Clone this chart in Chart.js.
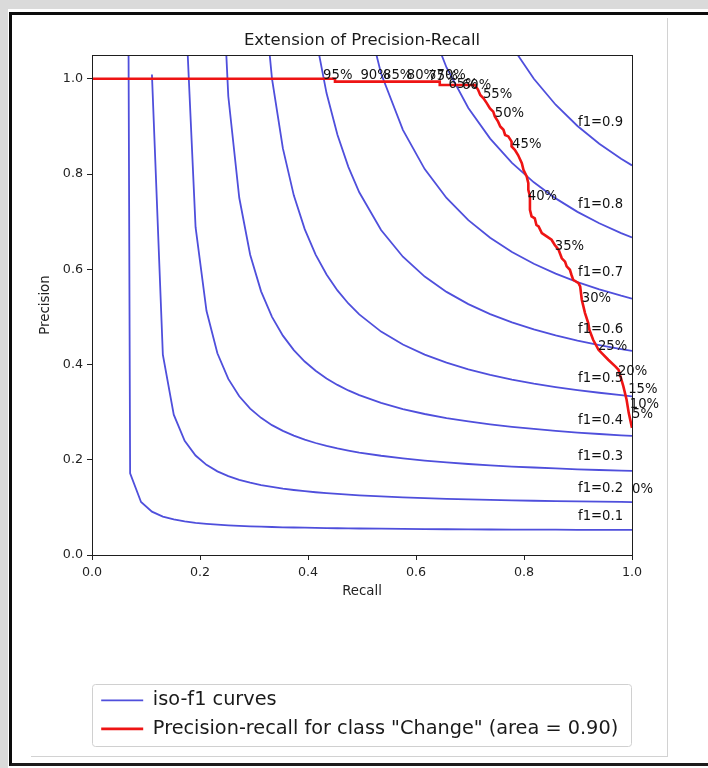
<!DOCTYPE html>
<html>
<head>
<meta charset="utf-8">
<script src="https://cdn.jsdelivr.net/npm/chart.js@4.4.1/dist/chart.umd.min.js"></script>
<style>
  html, body { margin: 0; padding: 0; }
  body { width: 708px; height: 768px; background: #dadada; position: relative; overflow: hidden; }
  #paper { position: absolute; left: 8px; top: 9px; width: 700px; height: 759px; background: #fff; }
  #frame { position: absolute; left: 9px; top: 12px; width: 710px; height: 748px; border-left: 3px solid #0c0c0c; border-top: 3px solid #0c0c0c; border-bottom: 3px solid #1c1c1c; }
  #figure { position: absolute; left: 31px; top: 18px; width: 636px; height: 738px; border-right: 1px solid #d2d2d2; border-bottom: 1px solid #d2d2d2; }
  #chart-box { position: absolute; left: 12px; top: 15px; width: 656px; height: 742px; }
</style>
</head>
<body>
<div id="paper"></div>
<div id="frame"></div>
<div id="figure"></div>
<div id="chart-box"><canvas id="prChart"></canvas></div>
<script>
// recall grid used by the iso-f1 curves (each curve uses the tail of it)
const recallGrid = [0.0504, 0.0706, 0.0908, 0.1110, 0.1312, 0.1514, 0.1716, 0.1918, 0.2120, 0.2322,
  0.2524, 0.2727, 0.2929, 0.3131, 0.3333, 0.3535, 0.3737, 0.3939, 0.4141, 0.4343, 0.4545, 0.4747,
  0.4949, 0.5353, 0.5757, 0.6161, 0.6565, 0.6969, 0.7373, 0.7777, 0.8182, 0.8586, 0.8990, 0.9394,
  0.9798, 1.0];

// precision of each iso-f1 curve, aligned to the end of recallGrid
const iso01 = [6.3, 0.1714, 0.1113, 0.0910, 0.0808, 0.0747, 0.0706, 0.0676, 0.0654, 0.0637, 0.0624,
  0.0612, 0.0603, 0.0595, 0.0588, 0.0582, 0.0577, 0.0573, 0.0569, 0.0565, 0.0562, 0.0559, 0.0556,
  0.0552, 0.0548, 0.0544, 0.0541, 0.0539, 0.0536, 0.0534, 0.0533, 0.0531, 0.0529, 0.0528, 0.0527, 0.0526];
const iso02 = [1.009, 0.4205, 0.2946, 0.2397, 0.2089, 0.1893, 0.1756, 0.1656, 0.1579, 0.1518, 0.1469,
  0.1429, 0.1394, 0.1365, 0.1340, 0.1318, 0.1299, 0.1282, 0.1267, 0.1253, 0.1230, 0.1210, 0.1194,
  0.1180, 0.1168, 0.1157, 0.1148, 0.1139, 0.1132, 0.1125, 0.1119, 0.1114, 0.1111];
const iso03 = [1.1917, 0.6883, 0.5129, 0.4237, 0.3697, 0.3334, 0.3075, 0.2880, 0.2727, 0.2606, 0.2506,
  0.2422, 0.2352, 0.2291, 0.2239, 0.2193, 0.2152, 0.2084, 0.2029, 0.1983, 0.1944, 0.1911, 0.1883,
  0.1858, 0.1837, 0.1818, 0.1800, 0.1785, 0.1771, 0.1765];
const iso04 = [1.442, 0.9634, 0.7502, 0.6306, 0.5537, 0.5001, 0.4606, 0.4303, 0.4063, 0.3868, 0.3707,
  0.3572, 0.3456, 0.3356, 0.3193, 0.3065, 0.2961, 0.2876, 0.2805, 0.2744, 0.2692, 0.2647, 0.2607,
  0.2572, 0.2541, 0.2513, 0.25];
const iso05 = [1.2405, 1.0003, 0.8539, 0.7553, 0.6843, 0.6309, 0.5891, 0.5556, 0.5282, 0.5052, 0.4691,
  0.4419, 0.4207, 0.4038, 0.3899, 0.3783, 0.3684, 0.3600, 0.3527, 0.3463, 0.3407, 0.3356, 0.3333];
const iso06 = [1.0888, 0.9701, 0.8825, 0.8152, 0.7618, 0.6825, 0.6264, 0.5847, 0.5525, 0.5268, 0.5058,
  0.4884, 0.4737, 0.4611, 0.4502, 0.4408, 0.4324, 0.4286];
const iso07 = [1.1954, 1.0111, 0.8928, 0.8104, 0.7497, 0.7031, 0.6663, 0.6364, 0.6116, 0.5909, 0.5731,
  0.5578, 0.5445, 0.5385];
const iso08 = [1.1404, 1.0238, 0.9389, 0.8744, 0.8236, 0.7826, 0.7489, 0.7206, 0.6966, 0.6760, 0.6667];
const iso09 = [1.068, 1.0, 0.9456, 0.9010, 0.8638, 0.8322, 0.8182];

// f1 label positions
const f1Scores = [0.1, 0.2, 0.3, 0.4, 0.5, 0.6, 0.7, 0.8, 0.9];
const f1LabelRecall = 0.9;
const f1LabelPrecision = [0.0729, 0.1322, 0.1993, 0.2756, 0.3634, 0.4653, 0.5852, 0.728, 0.9016];

// precision-recall curve for class "Change"
const prRecall = [0.0, 0.45, 0.45, 0.644, 0.644, 0.709, 0.715, 0.719, 0.725, 0.731, 0.737, 0.743, 0.746,
  0.752, 0.756, 0.762, 0.765, 0.771, 0.777, 0.777, 0.783, 0.789, 0.796, 0.799, 0.805, 0.808, 0.808,
  0.811, 0.811, 0.814, 0.820, 0.823, 0.827, 0.833, 0.842, 0.851, 0.857, 0.864, 0.870, 0.876, 0.879,
  0.885, 0.888, 0.891, 0.901, 0.904, 0.907, 0.910, 0.913, 0.919, 0.921, 0.928, 0.938, 0.944, 0.956,
  0.969, 0.975, 0.978, 0.984, 0.990, 0.994, 1.0];
const prPrecision = [1.0, 1.0, 0.994, 0.994, 0.987, 0.987, 0.977, 0.966, 0.959, 0.949, 0.938, 0.931, 0.921,
  0.910, 0.900, 0.893, 0.882, 0.879, 0.868, 0.858, 0.851, 0.840, 0.823, 0.809, 0.795, 0.781, 0.767,
  0.753, 0.725, 0.711, 0.707, 0.693, 0.690, 0.676, 0.669, 0.662, 0.651, 0.641, 0.623, 0.616, 0.606,
  0.599, 0.588, 0.578, 0.571, 0.564, 0.536, 0.522, 0.508, 0.487, 0.473, 0.452, 0.431, 0.424, 0.410,
  0.396, 0.389, 0.378, 0.354, 0.326, 0.298, 0.267];

// threshold annotations along the curve
const thresholdLabels = ["95%", "90%", "85%", "80%", "75%", "70%", "65%", "60%", "55%", "50%",
  "45%", "40%", "35%", "30%", "25%", "20%", "15%", "10%", "5%", "0%"];
const thresholdRecall = [0.428, 0.497, 0.539, 0.583, 0.623, 0.638, 0.660, 0.685, 0.724, 0.746,
  0.778, 0.807, 0.857, 0.907, 0.937, 0.974, 0.993, 0.996, 1.0, 1.0];
const thresholdPrecision = [1.0, 1.0, 1.0, 1.0, 0.998, 1.0, 0.981, 0.979, 0.960, 0.920,
  0.855, 0.746, 0.641, 0.532, 0.431, 0.378, 0.340, 0.309, 0.288, 0.130];

const recallTicks = [0.0, 0.2, 0.4, 0.6, 0.8, 1.0];
const precisionTicks = [0.0, 0.2, 0.4, 0.6, 0.8, 1.0];

const fontFamily = '"DejaVu Sans", sans-serif';
const isoColor = "#4f4fdc";
const prColor = "#ee1414";

const isoSeries = [iso01, iso02, iso03, iso04, iso05, iso06, iso07, iso08, iso09];
const isoDatasets = isoSeries.map((vals) => {
  const offset = recallGrid.length - vals.length;
  return {
    label: "iso-f1 curves",
    data: vals.map((p, i) => ({ x: recallGrid[offset + i], y: p })),
    borderColor: isoColor,
    borderWidth: 1.8,
    pointRadius: 0,
    order: 1,
    clip: 0,
  };
});

const prDataset = {
  label: 'Precision-recall for class "Change" (area = 0.90)',
  data: prRecall.map((r, i) => ({ x: r, y: prPrecision[i] })),
  borderColor: prColor,
  borderWidth: 2.6,
  pointRadius: 0,
  order: 0,
  clip: 0,
};

// box around the plot + text annotations
const plotFrame = {
  id: "plotFrame",
  afterDatasetsDraw(chart) {
    const { ctx, chartArea: a, scales: { x, y } } = chart;
    ctx.save();
    ctx.strokeStyle = "#1e1e1e";
    ctx.lineWidth = 1;
    ctx.strokeRect(a.left + 0.5, a.top + 0.5, a.width, a.height);

    ctx.font = "13.2px " + fontFamily;
    ctx.fillStyle = "#111";
    ctx.textAlign = "left";
    ctx.textBaseline = "alphabetic";
    f1Scores.forEach((f, i) => {
      ctx.fillText("f1=" + f.toFixed(1), x.getPixelForValue(f1LabelRecall), y.getPixelForValue(f1LabelPrecision[i]));
    });
    thresholdLabels.forEach((t, i) => {
      ctx.fillText(t, x.getPixelForValue(thresholdRecall[i]), y.getPixelForValue(thresholdPrecision[i]));
    });
    ctx.restore();
  },
};

// thin rounded frame around the legend
const legendFrame = {
  id: "legendFrame",
  afterDraw(chart) {
    const lg = chart.legend;
    if (!lg) return;
    const ctx = chart.ctx;
    ctx.save();
    ctx.strokeStyle = "#d0d0d0";
    ctx.lineWidth = 1;
    ctx.beginPath();
    const x0 = Math.round(lg.left) + 0.5, y0 = Math.round(lg.top + 2) + 0.5;
    const w = Math.round(lg.width) - 1, h = 62;
    if (ctx.roundRect) ctx.roundRect(x0, y0, w, h, 3);
    else ctx.rect(x0, y0, w, h);
    ctx.stroke();
    ctx.restore();
  },
};

const ctx = document.getElementById("prChart").getContext("2d");
const prChart = new Chart(ctx, {
  type: "line",
  data: { datasets: [...isoDatasets, prDataset] },
  plugins: [plotFrame, legendFrame],
  options: {
    responsive: true,
    maintainAspectRatio: false,
    animation: false,
    devicePixelRatio: 1,
    events: [],
    layout: { padding: { left: 0, right: 36, top: 0, bottom: 8.5 } },
    scales: {
      x: {
        type: "linear",
        min: 0,
        max: 1,
        afterBuildTicks: (s) => { s.ticks = recallTicks.map((v) => ({ value: v })); },
        afterFit: (s) => { s.height = 126.5; s.paddingLeft = 0; s.paddingRight = 0; },
        grid: { drawOnChartArea: false, drawTicks: true, tickLength: 5, tickColor: "#222", tickWidth: 1 },
        border: { display: false },
        ticks: {
          color: "#222",
          padding: 5,
          maxRotation: 0,
          font: { family: fontFamily, size: 12.7 },
          callback: (v) => Number(v).toFixed(1),
        },
        title: {
          display: true,
          text: "Recall",
          color: "#222",
          font: { family: fontFamily, size: 13.3 },
          padding: { top: 0, bottom: 81.5 },
        },
      },
      y: {
        type: "linear",
        min: 0,
        max: 1.05,
        afterBuildTicks: (s) => { s.ticks = precisionTicks.map((v) => ({ value: v })); },
        afterFit: (s) => { s.width = 80; s.paddingTop = 0; s.paddingBottom = 0; },
        grid: { drawOnChartArea: false, drawTicks: true, tickLength: 5, tickColor: "#222", tickWidth: 1 },
        border: { display: false },
        ticks: {
          color: "#222",
          padding: 4,
          font: { family: fontFamily, size: 12.7 },
          callback: (v) => Number(v).toFixed(1),
        },
        title: {
          display: true,
          text: "Precision",
          color: "#222",
          font: { family: fontFamily, size: 13.3 },
          padding: { top: 26, bottom: 0 },
        },
      },
    },
    plugins: {
      title: {
        display: true,
        text: "Extension of Precision-Recall",
        fullSize: false,
        color: "#1a1a1a",
        font: { family: fontFamily, size: 16.5, weight: "normal" },
        padding: { top: 16.1, bottom: 4.1 },
      },
      legend: {
        position: "bottom",
        align: "start",
        fullSize: false,
        labels: {
          usePointStyle: true,
          pointStyle: "line",
          pointStyleWidth: 42,
          padding: 9.2,
          color: "#1a1a1a",
          font: { family: fontFamily, size: 19.3 },
          filter: (item) => item.datasetIndex === 0 || item.datasetIndex === isoSeries.length,
          sort: (a, b) => a.datasetIndex - b.datasetIndex,
        },
      },
      tooltip: { enabled: false },
    },
  },
});
</script>
</body>
</html>
